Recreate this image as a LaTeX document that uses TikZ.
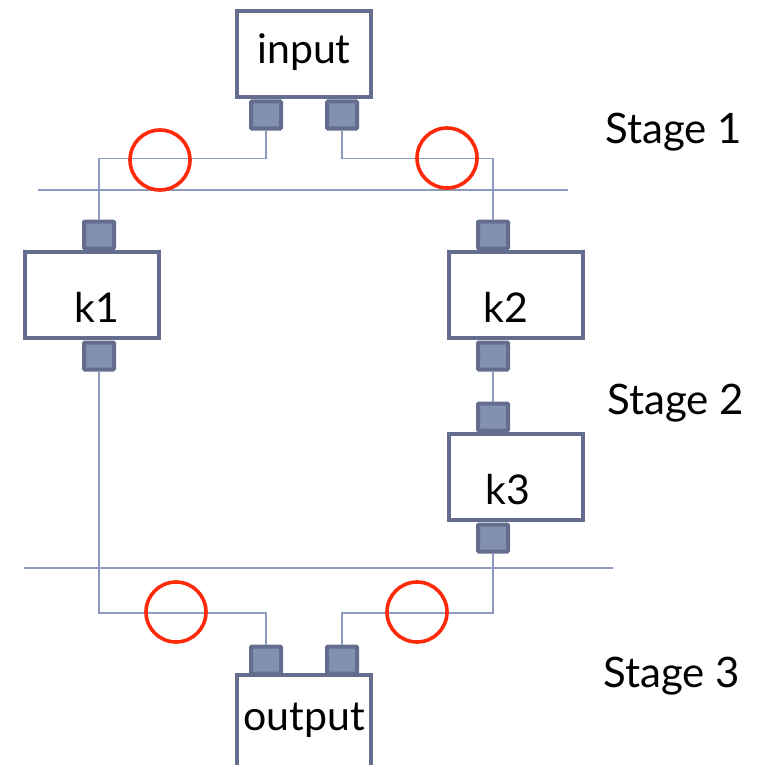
\documentclass[tikz,border=0pt]{standalone}
\usepackage{fontspec}
\setmainfont{Lato}
\begin{document}
\begin{tikzpicture}[x=1pt,y=-1pt,
  box/.style={draw=boxc,line width=4pt,fill=white,minimum width=134pt,minimum height=86pt,inner sep=0pt,font=\fontsize{41}{44}\selectfont},
  kbox/.style={box,text height=54pt,text depth=0pt},
  port/.style={draw=boxc,fill=portc,line width=4pt,minimum width=30pt,minimum height=27pt,inner sep=0pt,rounded corners=1pt},
  wire/.style={draw=wirec,line width=1.8pt},
  sep/.style={draw=wirec,line width=1.8pt},
  redring/.style={draw=redc,line width=3.6pt,circle,minimum size=60pt,inner sep=0pt},
  lab/.style={font=\fontsize{42}{44}\selectfont,anchor=base west,inner sep=0pt}]
\definecolor{boxc}{HTML}{656D8E}
\definecolor{portc}{HTML}{8290B2}
\definecolor{wirec}{HTML}{8E9BC0}
\definecolor{redc}{HTML}{FF2A0A}
\useasboundingbox (0,0) rectangle (760,765);
\clip (0,0) rectangle (760,765);
% separators
\draw[sep] (38,190) -- (568,190);
\draw[sep] (24,568) -- (613,568);
% boxes
\node[box,text height=30pt,text depth=10pt] (in) at (304,54) {input};
\node[kbox] (k1) at (92,295) {\hspace*{10pt}k1};
\node[kbox] (k2) at (516,295) {\hspace*{-20pt}k2};
\node[kbox] (k3) at (516,477) {\hspace*{-16pt}k3};
\node[box,minimum height=110pt,text height=25pt,text depth=25pt] (out) at (304,730) {output};
% ports
\node[port] (inl) at (266,115) {};
\node[port] (inr) at (342,115) {};
\node[port] (k1t) at (99,235) {};
\node[port] (k1b) at (99,356) {};
\node[port] (k2t) at (493,235) {};
\node[port] (k2b) at (493,356) {};
\node[port] (k3t) at (493,417) {};
\node[port] (k3b) at (493,538) {};
\node[port] (outl) at (266,660) {};
\node[port] (outr) at (342,660) {};
% wires
\draw[wire] (inl.south) -- ++(0,28) coordinate (a1) -| (k1t.north);
\draw[wire] (inr.south) -- ++(0,28) coordinate (a2) -| (k2t.north);
\draw[wire] (k2b.south) -- (k3t.north);
\draw[wire] (k1b.south) |- (266,613) coordinate (b1) -- (outl.north);
\draw[wire] (k3b.south) |- (342,613) coordinate (b2) -- (outr.north);
% red circles
\node[redring] (c1) at (160,160) {};
\node[redring] (c2) at (447,158) {};
\node[redring] (c3) at (176,612) {};
\node[redring] (c4) at (417,612) {};
% stage labels
\node[lab] (s1) at (605,143) {Stage 1};
\node[lab] (s2) at (607,414) {Stage 2};
\node[lab] (s3) at (603,687) {Stage 3};
\end{tikzpicture}
\end{document}
